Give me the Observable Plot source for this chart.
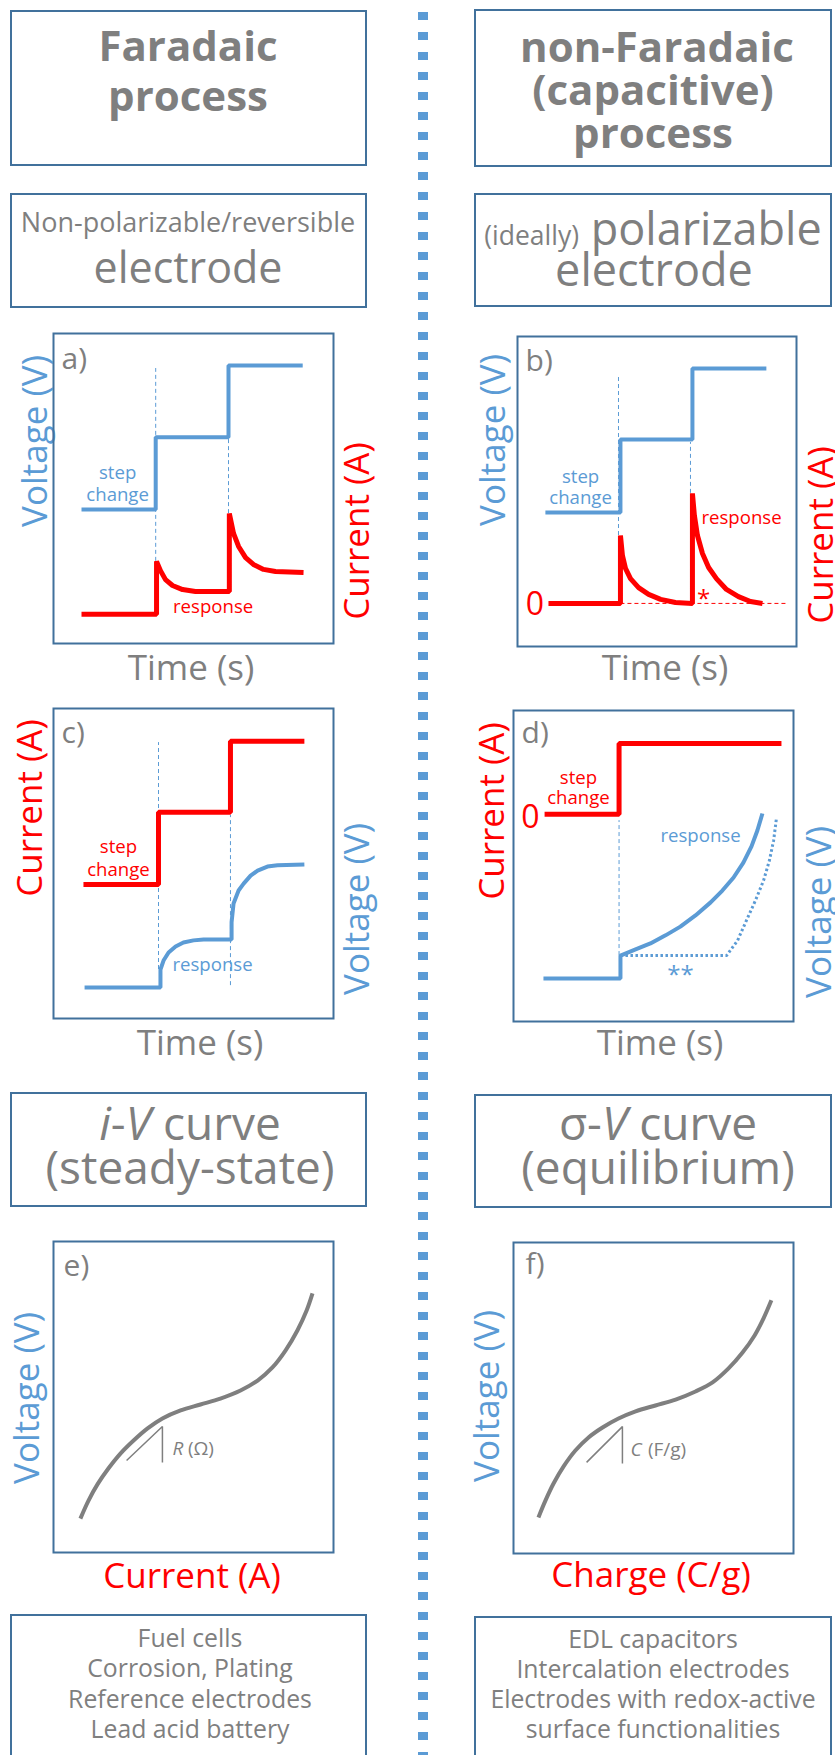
<!DOCTYPE html>
<html><head><meta charset="utf-8">
<script src="https://cdn.jsdelivr.net/npm/d3@7"></script>
<script src="https://cdn.jsdelivr.net/npm/@observablehq/plot@0.6"></script>
<style>
body{margin:0;background:#fff;}
#page{position:relative;width:835px;height:1755px;overflow:hidden;font-family:"Open Sans",Lato,sans-serif;color:#7f7f7f;}
.box{position:absolute;border:2px solid #41719c;box-sizing:border-box;}
.t{position:absolute;white-space:nowrap;line-height:1;}
.divider{position:absolute;left:418px;width:10px;top:12px;bottom:0;background:repeating-linear-gradient(to bottom,#5b9bd5 0 8px,transparent 8px 20px);}
svg{overflow:visible;}
</style></head><body><div id="page"><div class="divider"></div></div>
<script>
// ---------- data (time/signal in arbitrary units, 0-10 across each panel) ----------
// a) Faradaic: voltage step, current response
const aVoltT = [1.0, 3.65, 6.25, 8.9];
const aVoltV = [4.32, 6.65, 8.97, 8.97];
const aCurT = [1.0, 3.68, 3.68, 3.82, 4.0, 4.25, 4.61, 5.07, 6.28, 6.28, 6.43, 6.61, 6.86, 7.14, 7.5, 7.93, 8.93];
const aCurV = [0.94, 0.94, 2.65, 2.35, 2.06, 1.87, 1.74, 1.68, 1.68, 4.19, 3.55, 3.13, 2.77, 2.55, 2.39, 2.32, 2.29];
const aGuideT = [3.65, 6.25], aGuideLo = [2.65, 4.19], aGuideHi = [8.87, 6.65];

// b) non-Faradaic: voltage step, capacitive current spikes
const bVoltT = [1.0, 3.69, 6.27, 8.92];
const bVoltV = [4.32, 6.68, 8.97, 8.97];
const bCurT = [1.11, 3.69, 3.69, 3.76, 3.87, 4.05, 4.34, 4.70, 5.13, 5.66, 6.27, 6.27, 6.34, 6.45, 6.63, 6.85, 7.13, 7.49, 7.92, 8.35, 8.78];
const bCurV = [1.39, 1.39, 3.58, 2.94, 2.52, 2.19, 1.90, 1.68, 1.52, 1.42, 1.39, 4.94, 4.23, 3.58, 3.0, 2.55, 2.19, 1.84, 1.61, 1.45, 1.39];
const bZeroT = [3.69, 9.71], bZeroV = [1.39, 1.39];
const bGuideT = [3.62, 6.2], bGuideLo = [3.58, 4.94], bGuideHi = [8.74, 6.58];

// c) Faradaic: current step, voltage response
const cCurT = [1.07, 3.75, 6.32, 8.96];
const cCurV = [4.32, 6.65, 8.94, 8.94];
const cVoltT = [1.11, 3.82, 3.82, 3.93, 4.11, 4.36, 4.64, 5.0, 5.36, 6.36, 6.36, 6.43, 6.61, 6.79, 7.04, 7.29, 7.64, 8.0, 8.96];
const cVoltV = [1.0, 1.0, 1.58, 1.87, 2.13, 2.32, 2.45, 2.52, 2.55, 2.55, 3.10, 3.71, 4.13, 4.35, 4.61, 4.77, 4.9, 4.94, 4.97];
const cGuideT = [3.75, 6.32], cGuideLo = [1.58, 1.06], cGuideHi = [8.9, 6.55];

// d) non-Faradaic: current step, voltage ramp response
const dCurT = [1.11, 3.77, 9.57];
const dCurV = [6.66, 8.94, 8.94];
const dVoltT = [1.07, 3.82, 3.82, 4.36, 4.89, 5.43, 5.96, 6.5, 7.04, 7.46, 7.86, 8.21, 8.5, 8.71, 8.89];
const dVoltV = [1.38, 1.38, 2.12, 2.32, 2.51, 2.77, 3.05, 3.41, 3.83, 4.21, 4.63, 5.11, 5.63, 6.14, 6.69];
const dDotT = [3.82, 7.61, 8.0, 8.32, 8.64, 8.93, 9.14, 9.29, 9.39];
const dDotV = [2.12, 2.12, 2.6, 3.25, 3.89, 4.53, 5.18, 5.82, 6.53];
const dGuideT = [3.77], dGuideLo = [2.12], dGuideHi = [6.46];

// e) i-V curve
const eCurrent = [0.96, 1.25, 1.57, 1.96, 2.39, 2.86, 3.36, 3.89, 4.54, 5.25, 5.96, 6.68, 7.29, 7.82, 8.29, 8.71, 9.04, 9.25];
const eVoltage = [1.09, 1.67, 2.19, 2.70, 3.18, 3.60, 3.99, 4.31, 4.57, 4.76, 4.95, 5.21, 5.53, 5.95, 6.50, 7.14, 7.78, 8.33];
const eSlopeX = [2.61, 3.89, 3.89], eSlopeY = [2.96, 4.05, 2.89];

// f) sigma-V curve
const fCharge = [0.89, 1.14, 1.43, 1.79, 2.21, 2.68, 3.18, 3.75, 4.36, 5.07, 5.79, 6.5, 7.11, 7.68, 8.18, 8.61, 8.93, 9.21];
const fVoltage = [1.16, 1.70, 2.25, 2.80, 3.31, 3.73, 4.05, 4.34, 4.57, 4.76, 4.95, 5.21, 5.50, 5.95, 6.46, 7.01, 7.56, 8.14];
const fSlopeX = [2.61, 3.89, 3.89], fSlopeY = [2.93, 4.08, 2.89];

// text
const leftExamples = ["Fuel cells", "Corrosion, Plating", "Reference electrodes", "Lead acid battery"];
const rightExamples = ["EDL capacitors", "Intercalation electrodes", "Electrodes with redox-active", "surface functionalities"];

// ---------- helpers ----------
const BOX = "#41719c", BLUE = "#5b9bd5", RED = "#ff0000", GRAY = "#7f7f7f";
const FONT = "'Open Sans', Lato, sans-serif";
const page = document.getElementById("page");
const pts = (xs, ys) => xs.map((x, i) => ({x, y: ys[i]}));

function box(l, t, r, b) {
  const d = document.createElement("div");
  d.className = "box";
  Object.assign(d.style, {left: l + "px", top: t + "px", width: (r - l) + "px", height: (b - t) + "px"});
  page.appendChild(d);
}
function line(html, cx, baseline, size, o = {}) {
  const d = document.createElement("div");
  d.className = "t";
  d.innerHTML = html;
  Object.assign(d.style, {
    fontSize: size + "px", top: (baseline - 0.888 * size) + "px", left: cx + "px",
    transform: "translateX(-50%)", color: o.color || GRAY, fontWeight: o.weight || "normal"
  });
  page.appendChild(d);
}
function vlabel(text, cx, cy, size, color) {
  const d = document.createElement("div");
  d.className = "t";
  d.textContent = text;
  Object.assign(d.style, {
    fontSize: size + "px", left: cx + "px", top: cy + "px", color,
    transform: "translate(-50%,-50%) rotate(-90deg)"
  });
  page.appendChild(d);
}
function txt(items, fill, size, anchor = "middle", extra = {}) {
  return Plot.text(items, {x: "x", y: "y", text: "s", fill, fontSize: size, textAnchor: anchor, lineAnchor: "bottom", ...extra});
}
function guides(ts, lo, hi) {
  return Plot.ruleX(ts.map((t, i) => ({x: t, y1: lo[i], y2: hi[i]})), {x: "x", y1: "y1", y2: "y2", stroke: BLUE, strokeWidth: 1, strokeDasharray: "4,3"});
}
function panel(L, T, W, H, marks) {
  const svg = Plot.plot({
    width: W, height: H, margin: 0,
    x: {domain: [0, 10], axis: null}, y: {domain: [0, 10], axis: null},
    style: {overflow: "visible", background: "transparent", fontFamily: FONT},
    marks: [...marks, Plot.frame({stroke: BOX, strokeWidth: 2})]
  });
  Object.assign(svg.style, {position: "absolute", left: L + "px", top: T + "px"});
  page.appendChild(svg);
}
const lineOpts = (stroke, w, extra = {}) => ({x: "x", y: "y", stroke, strokeWidth: w, strokeLinejoin: "miter", strokeLinecap: "butt", ...extra});

// ---------- boxes ----------
box(10, 10, 367, 166); box(474, 9, 832, 167);
box(10, 193, 367, 308); box(474, 193, 832, 307);
box(10, 1092, 367, 1207); box(474, 1094, 832, 1208);
box(10, 1614, 367, 1790); box(474, 1616, 832, 1790);

// ---------- box texts ----------
line("Faradaic", 188, 61, 42, {weight: "bold"});
line("process", 188, 111, 42, {weight: "bold"});
line("non-Faradaic", 657, 62, 42, {weight: "bold"});
line("(capacitive)", 653, 105, 42, {weight: "bold"});
line("process", 653, 148, 42, {weight: "bold"});
line("Non-polarizable/reversible", 188, 232, 27);
line("electrode", 188, 283, 43);
line('<span style="font-size:26.5px">(ideally)</span> polarizable', 653, 245, 45);
line("electrode", 654, 286, 45);
line("<i>i</i>-<i>V</i> curve", 190, 1140, 46);
line("(steady-state)", 190, 1184, 46);
line("σ-<i>V</i> curve", 658, 1140, 46);
line("(equilibrium)", 658, 1184, 46);
leftExamples.forEach((s, i) => line(s, 190, 1647 + i * 30.3, 24.8));
rightExamples.forEach((s, i) => line(s, 653, 1648 + i * 30, 24.8));

// ---------- axis titles ----------
line("Time (s)", 191, 680, 35);
line("Time (s)", 665, 680, 35);
line("Time (s)", 200, 1055, 35);
line("Time (s)", 660, 1055, 35);
line("Current (A)", 192, 1588, 35, {color: RED});
line("Charge (C/g)", 651, 1587, 35, {color: RED});
vlabel("Voltage (V)", 33, 441, 35, BLUE);
vlabel("Current (A)", 355, 531, 35, RED);
vlabel("Voltage (V)", 491, 440, 35, BLUE);
vlabel("Current (A)", 819, 535, 35, RED);
vlabel("Current (A)", 28, 808, 35, RED);
vlabel("Voltage (V)", 355, 909, 35, BLUE);
vlabel("Current (A)", 490, 811, 35, RED);
vlabel("Voltage (V)", 817, 912, 35, BLUE);
vlabel("Voltage (V)", 25, 1398, 35, BLUE);
vlabel("Voltage (V)", 485, 1396, 35, BLUE);

// ---------- panels ----------
panel(53, 333, 280, 310, [
  guides(aGuideT, aGuideLo, aGuideHi),
  Plot.line(pts(aVoltT, aVoltV), lineOpts(BLUE, 4, {curve: "step-after"})),
  Plot.line(pts(aCurT, aCurV), lineOpts(RED, 5)),
  txt([{x: 0.29, y: 8.87, s: "a)"}], GRAY, 30, "start"),
  txt([{x: 2.29, y: 5.32, s: "step"}, {x: 2.29, y: 4.61, s: "change"}], BLUE, 18.6),
  txt([{x: 5.7, y: 0.97, s: "response"}], RED, 18.6)
]);
panel(517, 336, 279, 310, [
  guides(bGuideT, bGuideLo, bGuideHi),
  Plot.line(pts(bZeroT, bZeroV), lineOpts(RED, 1, {strokeDasharray: "4,3"})),
  Plot.line(pts(bVoltT, bVoltV), lineOpts(BLUE, 4, {curve: "step-after"})),
  Plot.line(pts(bCurT, bCurV), lineOpts(RED, 5)),
  txt([{x: 0.29, y: 8.9, s: "b)"}], GRAY, 30, "start"),
  txt([{x: 2.26, y: 5.29, s: "step"}, {x: 2.26, y: 4.61, s: "change"}], BLUE, 18.6),
  txt([{x: 8.03, y: 3.94, s: "response"}], RED, 18.6),
  txt([{x: 0.95, y: 1.03, s: "0"}], RED, 32, "end"),
  txt([{x: 6.67, y: 1.26, s: "*"}], RED, 24)
]);
panel(53, 708, 280, 310, [
  guides(cGuideT, cGuideLo, cGuideHi),
  Plot.line(pts(cCurT, cCurV), lineOpts(RED, 5, {curve: "step-after"})),
  Plot.line(pts(cVoltT, cVoltV), lineOpts(BLUE, 4)),
  txt([{x: 0.29, y: 8.9, s: "c)"}], GRAY, 30, "start"),
  txt([{x: 2.32, y: 5.35, s: "step"}, {x: 2.32, y: 4.61, s: "change"}], RED, 18.6),
  txt([{x: 5.68, y: 1.52, s: "response"}], BLUE, 18.6)
]);
panel(513, 710, 280, 311, [
  guides(dGuideT, dGuideLo, dGuideHi),
  Plot.line(pts(dCurT, dCurV), lineOpts(RED, 5, {curve: "step-after"})),
  Plot.line(pts(dDotT, dDotV), lineOpts(BLUE, 3, {strokeDasharray: "2.5,2.5"})),
  Plot.line(pts(dVoltT, dVoltV), lineOpts(BLUE, 4)),
  txt([{x: 0.29, y: 8.94, s: "d)"}], GRAY, 30, "start"),
  txt([{x: 0.93, y: 6.21, s: "0"}], RED, 32, "end"),
  txt([{x: 2.32, y: 7.65, s: "step"}, {x: 2.32, y: 6.98, s: "change"}], RED, 18.6),
  txt([{x: 6.68, y: 5.76, s: "response"}], BLUE, 18.6),
  txt([{x: 5.96, y: 1.25, s: "**"}], BLUE, 24)
]);
panel(53, 1241, 280, 311, [
  Plot.line(pts(eCurrent, eVoltage), lineOpts(GRAY, 4, {curve: "catmull-rom", strokeLinejoin: "round"})),
  Plot.line(pts(eSlopeX, eSlopeY), lineOpts(GRAY, 1.5)),
  txt([{x: 0.36, y: 8.9, s: "e)"}], GRAY, 30, "start"),
  txt([{x: 4.25, y: 3.12, s: "R"}], GRAY, 19, "start", {fontStyle: "italic"}),
  txt([{x: 4.8, y: 3.12, s: "(Ω)"}], GRAY, 19, "start")
]);
panel(513, 1242, 280, 311, [
  Plot.line(pts(fCharge, fVoltage), lineOpts(GRAY, 4, {curve: "catmull-rom", strokeLinejoin: "round"})),
  Plot.line(pts(fSlopeX, fSlopeY), lineOpts(GRAY, 1.5)),
  txt([{x: 0.43, y: 9.0, s: "f)"}], GRAY, 30, "start"),
  txt([{x: 4.18, y: 3.15, s: "C"}], GRAY, 19, "start", {fontStyle: "italic"}),
  txt([{x: 4.8, y: 3.15, s: "(F/g)"}], GRAY, 19, "start")
]);
</script></body></html>
